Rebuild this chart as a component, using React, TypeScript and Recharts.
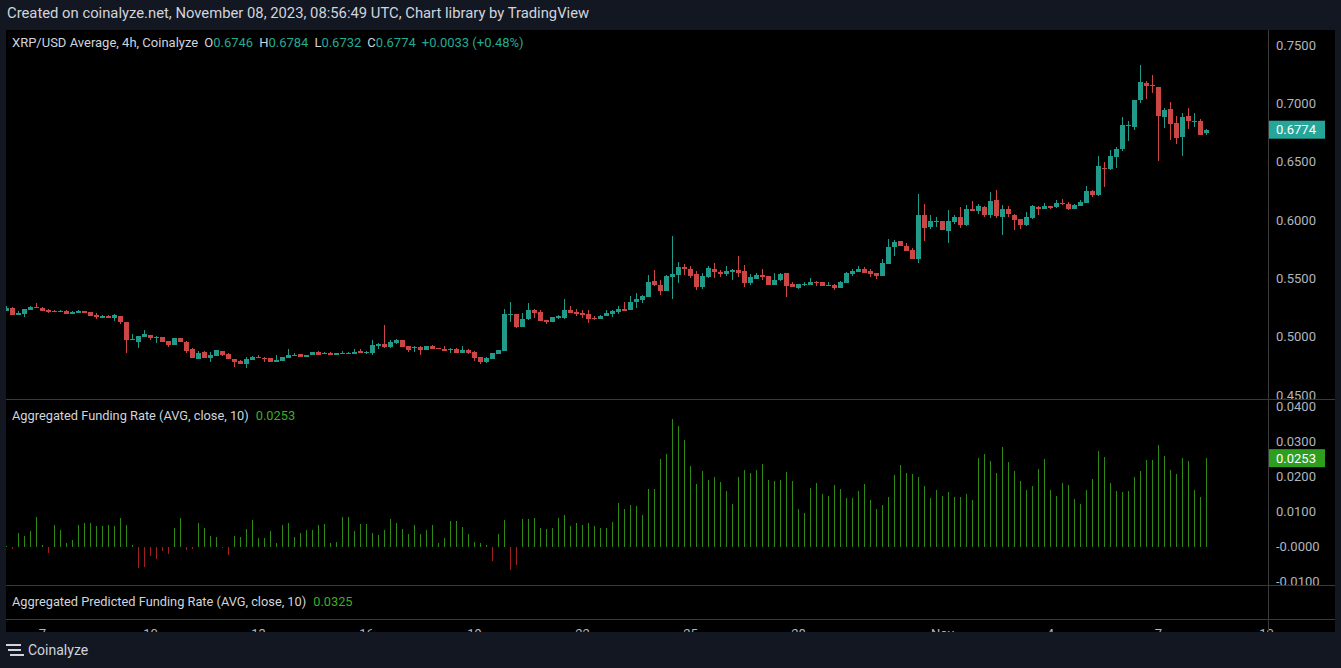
import React from 'react';
import { ComposedChart, Bar, XAxis, YAxis, ReferenceLine } from 'recharts';

// 4h candles, Oct 6 00:00 UTC -> Nov 8 08:00 UTC: [open, high, low, close]
const candles: [number, number, number, number][] = [
  [0.5220, 0.5263, 0.5218, 0.5249], [0.5246, 0.5250, 0.5183, 0.5186], [0.5186, 0.5220, 0.5184, 0.5206], [0.5194, 0.5240, 0.5169, 0.5237],
  [0.5229, 0.5263, 0.5226, 0.5254], [0.5254, 0.5286, 0.5246, 0.5250], [0.5246, 0.5252, 0.5218, 0.5220], [0.5231, 0.5237, 0.5206, 0.5211],
  [0.5222, 0.5226, 0.5214, 0.5218], [0.5218, 0.5226, 0.5214, 0.5221], [0.5223, 0.5226, 0.5192, 0.5194], [0.5194, 0.5217, 0.5191, 0.5214],
  [0.5203, 0.5229, 0.5200, 0.5223], [0.5220, 0.5223, 0.5200, 0.5203], [0.5211, 0.5214, 0.5177, 0.5180], [0.5189, 0.5203, 0.5154, 0.5171],
  [0.5163, 0.5186, 0.5160, 0.5180], [0.5180, 0.5183, 0.5160, 0.5163], [0.5160, 0.5194, 0.5137, 0.5189], [0.5177, 0.5180, 0.5111, 0.5126],
  [0.5126, 0.5129, 0.4863, 0.4971], [0.4977, 0.5023, 0.4971, 0.4980], [0.4954, 0.5009, 0.4903, 0.5006], [0.4997, 0.5057, 0.4994, 0.5023],
  [0.5014, 0.5017, 0.4971, 0.4989], [0.4994, 0.5006, 0.4946, 0.4997], [0.4997, 0.5000, 0.4951, 0.4954], [0.4963, 0.4966, 0.4911, 0.4929],
  [0.4929, 0.4991, 0.4926, 0.4989], [0.4989, 0.4991, 0.4951, 0.4954], [0.4954, 0.4960, 0.4860, 0.4877], [0.4894, 0.4900, 0.4814, 0.4817],
  [0.4809, 0.4877, 0.4806, 0.4860], [0.4869, 0.4877, 0.4814, 0.4817], [0.4817, 0.4869, 0.4783, 0.4843], [0.4834, 0.4889, 0.4831, 0.4886],
  [0.4877, 0.4880, 0.4834, 0.4843], [0.4851, 0.4857, 0.4806, 0.4809], [0.4809, 0.4811, 0.4740, 0.4783], [0.4791, 0.4797, 0.4763, 0.4766],
  [0.4766, 0.4826, 0.4731, 0.4809], [0.4800, 0.4834, 0.4797, 0.4826], [0.4827, 0.4843, 0.4817, 0.4824], [0.4820, 0.4826, 0.4783, 0.4816],
  [0.4817, 0.4820, 0.4780, 0.4783], [0.4783, 0.4843, 0.4780, 0.4800], [0.4791, 0.4829, 0.4789, 0.4826], [0.4817, 0.4894, 0.4814, 0.4843],
  [0.4838, 0.4860, 0.4834, 0.4841], [0.4851, 0.4854, 0.4823, 0.4826], [0.4826, 0.4846, 0.4823, 0.4843], [0.4843, 0.4871, 0.4840, 0.4869],
  [0.4869, 0.4877, 0.4840, 0.4843], [0.4859, 0.4869, 0.4851, 0.4862], [0.4860, 0.4866, 0.4840, 0.4843], [0.4843, 0.4863, 0.4840, 0.4860],
  [0.4858, 0.4877, 0.4855, 0.4861], [0.4859, 0.4869, 0.4856, 0.4862], [0.4851, 0.4894, 0.4849, 0.4869], [0.4877, 0.4894, 0.4857, 0.4860],
  [0.4867, 0.4877, 0.4851, 0.4870], [0.4860, 0.4971, 0.4843, 0.4929], [0.4920, 0.4946, 0.4894, 0.4937], [0.4937, 0.5100, 0.4906, 0.4911],
  [0.4911, 0.4971, 0.4903, 0.4954], [0.4946, 0.4980, 0.4937, 0.4971], [0.4971, 0.4974, 0.4909, 0.4911], [0.4920, 0.4923, 0.4869, 0.4886],
  [0.4909, 0.4920, 0.4869, 0.4912], [0.4911, 0.4920, 0.4843, 0.4886], [0.4886, 0.4923, 0.4883, 0.4920], [0.4920, 0.4929, 0.4891, 0.4894],
  [0.4904, 0.4906, 0.4894, 0.4901], [0.4894, 0.4920, 0.4874, 0.4877], [0.4893, 0.4903, 0.4860, 0.4896], [0.4894, 0.4903, 0.4857, 0.4860],
  [0.4860, 0.4920, 0.4857, 0.4886], [0.4886, 0.4894, 0.4851, 0.4860], [0.4869, 0.4877, 0.4791, 0.4817], [0.4826, 0.4829, 0.4766, 0.4783],
  [0.4783, 0.4826, 0.4774, 0.4817], [0.4809, 0.4863, 0.4806, 0.4860], [0.4851, 0.4889, 0.4849, 0.4886], [0.4877, 0.5237, 0.4874, 0.5194],
  [0.5194, 0.5297, 0.5126, 0.5197], [0.5194, 0.5197, 0.5074, 0.5083], [0.5083, 0.5203, 0.5080, 0.5151], [0.5151, 0.5289, 0.5143, 0.5229],
  [0.5229, 0.5237, 0.5160, 0.5203], [0.5211, 0.5229, 0.5131, 0.5134], [0.5143, 0.5146, 0.5109, 0.5126], [0.5126, 0.5171, 0.5123, 0.5169],
  [0.5160, 0.5186, 0.5151, 0.5177], [0.5160, 0.5323, 0.5151, 0.5229], [0.5229, 0.5263, 0.5200, 0.5203], [0.5211, 0.5237, 0.5177, 0.5194],
  [0.5203, 0.5229, 0.5160, 0.5186], [0.5194, 0.5229, 0.5117, 0.5151], [0.5162, 0.5177, 0.5143, 0.5159], [0.5151, 0.5186, 0.5149, 0.5177],
  [0.5177, 0.5229, 0.5174, 0.5203], [0.5194, 0.5229, 0.5169, 0.5220], [0.5211, 0.5263, 0.5194, 0.5237], [0.5234, 0.5297, 0.5217, 0.5222],
  [0.5229, 0.5349, 0.5226, 0.5297], [0.5297, 0.5374, 0.5246, 0.5323], [0.5314, 0.5357, 0.5289, 0.5349], [0.5340, 0.5529, 0.5337, 0.5469],
  [0.5477, 0.5571, 0.5434, 0.5443], [0.5443, 0.5486, 0.5357, 0.5391], [0.5391, 0.5529, 0.5389, 0.5520], [0.5511, 0.5863, 0.5323, 0.5537],
  [0.5529, 0.5640, 0.5460, 0.5597], [0.5597, 0.5623, 0.5529, 0.5580], [0.5580, 0.5606, 0.5503, 0.5520], [0.5537, 0.5563, 0.5400, 0.5426],
  [0.5426, 0.5546, 0.5409, 0.5520], [0.5511, 0.5606, 0.5503, 0.5589], [0.5580, 0.5631, 0.5503, 0.5554], [0.5554, 0.5571, 0.5511, 0.5537],
  [0.5537, 0.5606, 0.5520, 0.5563], [0.5554, 0.5580, 0.5486, 0.5571], [0.5571, 0.5691, 0.5511, 0.5546], [0.5563, 0.5614, 0.5426, 0.5460],
  [0.5460, 0.5537, 0.5443, 0.5511], [0.5494, 0.5546, 0.5491, 0.5529], [0.5529, 0.5580, 0.5486, 0.5511], [0.5520, 0.5523, 0.5440, 0.5443],
  [0.5443, 0.5546, 0.5440, 0.5486], [0.5486, 0.5546, 0.5477, 0.5537], [0.5546, 0.5549, 0.5340, 0.5434], [0.5451, 0.5469, 0.5423, 0.5426],
  [0.5417, 0.5454, 0.5409, 0.5451], [0.5447, 0.5469, 0.5434, 0.5450], [0.5443, 0.5503, 0.5440, 0.5469], [0.5468, 0.5477, 0.5434, 0.5465],
  [0.5469, 0.5472, 0.5431, 0.5434], [0.5438, 0.5469, 0.5434, 0.5441], [0.5443, 0.5451, 0.5400, 0.5417], [0.5417, 0.5477, 0.5414, 0.5469],
  [0.5460, 0.5554, 0.5457, 0.5546], [0.5537, 0.5580, 0.5520, 0.5563], [0.5554, 0.5606, 0.5551, 0.5580], [0.5580, 0.5597, 0.5543, 0.5546],
  [0.5563, 0.5580, 0.5511, 0.5537], [0.5546, 0.5549, 0.5494, 0.5520], [0.5520, 0.5666, 0.5517, 0.5631], [0.5623, 0.5837, 0.5620, 0.5769],
  [0.5769, 0.5829, 0.5691, 0.5811], [0.5820, 0.5823, 0.5774, 0.5777], [0.5777, 0.5803, 0.5731, 0.5734], [0.5743, 0.5760, 0.5663, 0.5666],
  [0.5666, 0.6223, 0.5631, 0.6043], [0.6043, 0.6137, 0.5820, 0.5931], [0.5940, 0.6043, 0.5923, 0.5991], [0.5992, 0.6026, 0.5940, 0.5995],
  [0.5991, 0.5994, 0.5911, 0.5914], [0.5906, 0.6086, 0.5803, 0.5991], [0.5983, 0.6043, 0.5966, 0.6026], [0.6026, 0.6111, 0.5931, 0.5957],
  [0.5957, 0.6129, 0.5949, 0.6094], [0.6094, 0.6163, 0.6074, 0.6077], [0.6077, 0.6137, 0.6051, 0.6120], [0.6111, 0.6120, 0.6026, 0.6043],
  [0.6043, 0.6240, 0.6017, 0.6163], [0.6171, 0.6257, 0.6017, 0.6034], [0.6026, 0.6129, 0.5871, 0.6094], [0.6094, 0.6120, 0.6026, 0.6051],
  [0.6043, 0.6051, 0.5914, 0.6000], [0.6009, 0.6012, 0.5923, 0.5957], [0.5957, 0.6069, 0.5949, 0.6026], [0.6017, 0.6129, 0.6009, 0.6120],
  [0.6111, 0.6120, 0.6043, 0.6094], [0.6094, 0.6146, 0.6091, 0.6120], [0.6120, 0.6123, 0.6094, 0.6103], [0.6111, 0.6171, 0.6103, 0.6146],
  [0.6142, 0.6180, 0.6129, 0.6139], [0.6137, 0.6154, 0.6086, 0.6094], [0.6094, 0.6137, 0.6091, 0.6129], [0.6120, 0.6171, 0.6117, 0.6154],
  [0.6146, 0.6291, 0.6143, 0.6249], [0.6249, 0.6257, 0.6197, 0.6214], [0.6214, 0.6549, 0.6206, 0.6463], [0.6448, 0.6497, 0.6283, 0.6444],
  [0.6437, 0.6600, 0.6429, 0.6549], [0.6540, 0.6626, 0.6446, 0.6609], [0.6609, 0.6883, 0.6591, 0.6814], [0.6815, 0.6849, 0.6677, 0.6818],
  [0.6797, 0.7032, 0.6771, 0.7029], [0.7029, 0.7329, 0.7003, 0.7183], [0.7174, 0.7191, 0.7037, 0.7149], [0.7156, 0.7243, 0.7089, 0.7152],
  [0.7140, 0.7143, 0.6506, 0.6891], [0.6883, 0.6960, 0.6789, 0.6943], [0.6951, 0.7011, 0.6686, 0.6823], [0.6831, 0.6891, 0.6651, 0.6703],
  [0.6711, 0.6917, 0.6549, 0.6883], [0.6891, 0.6960, 0.6780, 0.6849], [0.6845, 0.6917, 0.6797, 0.6848], [0.6849, 0.6866, 0.6726, 0.6729],
  [0.6746, 0.6784, 0.6732, 0.6774],
];

// aggregated funding rate, one value per candle
const funding: number[] = [
  0.0002, -0.0006, 0.0038, 0.0030, 0.0045, 0.0086, 0.0006, -0.0017, 0.0062, 0.0048,
  0.0010, 0.0019, 0.0062, 0.0068, 0.0068, 0.0060, 0.0060, 0.0062, 0.0060, 0.0082,
  0.0062, 0.0004, -0.0060, -0.0057, -0.0027, -0.0034, -0.0012, -0.0021, 0.0054, 0.0083,
  -0.0009, -0.0006, 0.0068, 0.0054, 0.0032, 0.0029, -0.0003, -0.0023, 0.0030, 0.0029,
  0.0051, 0.0077, 0.0026, 0.0026, 0.0045, 0.0010, 0.0062, 0.0068, 0.0029, 0.0039,
  0.0048, 0.0048, 0.0062, 0.0065, 0.0010, 0.0014, 0.0085, 0.0085, 0.0045, 0.0065,
  0.0065, 0.0039, 0.0033, 0.0048, 0.0079, 0.0069, 0.0050, 0.0036, 0.0062, 0.0036,
  0.0049, 0.0062, 0.0010, 0.0026, 0.0074, 0.0074, 0.0056, 0.0036, 0.0014, 0.0010,
  0.0006, -0.0040, 0.0036, 0.0077, -0.0066, -0.0052, 0.0079, 0.0079, 0.0083, 0.0054,
  0.0051, 0.0054, 0.0083, 0.0090, 0.0059, 0.0068, 0.0062, 0.0068, 0.0059, 0.0054,
  0.0054, 0.0070, 0.0124, 0.0109, 0.0119, 0.0117, 0.0091, 0.0166, 0.0166, 0.0251,
  0.0266, 0.0366, 0.0346, 0.0306, 0.0231, 0.0180, 0.0217, 0.0191, 0.0200, 0.0186,
  0.0160, 0.0123, 0.0200, 0.0220, 0.0211, 0.0220, 0.0237, 0.0191, 0.0189, 0.0191,
  0.0214, 0.0189, 0.0109, 0.0097, 0.0169, 0.0183, 0.0151, 0.0146, 0.0177, 0.0166,
  0.0140, 0.0140, 0.0160, 0.0180, 0.0134, 0.0109, 0.0120, 0.0143, 0.0206, 0.0234,
  0.0211, 0.0209, 0.0200, 0.0174, 0.0140, 0.0163, 0.0146, 0.0157, 0.0143, 0.0143,
  0.0151, 0.0134, 0.0254, 0.0266, 0.0246, 0.0211, 0.0286, 0.0243, 0.0217, 0.0189,
  0.0163, 0.0174, 0.0223, 0.0251, 0.0163, 0.0146, 0.0183, 0.0177, 0.0137, 0.0123,
  0.0163, 0.0194, 0.0274, 0.0257, 0.0183, 0.0160, 0.0157, 0.0160, 0.0200, 0.0217,
  0.0249, 0.0249, 0.0291, 0.0260, 0.0220, 0.0209, 0.0254, 0.0246, 0.0163, 0.0143,
  0.0253,
];

// candle index of each day label (index 0 = Oct 6 00:00)
const timeTicks = [6, 24, 42, 60, 78, 96, 114, 132, 156, 174, 192, 210];
const timeLabels = ['7', '10', '13', '16', '19', '22', '25', '28', 'Nov', '4', '7', '10'];
const priceTicks = [0.45, 0.5, 0.55, 0.6, 0.65, 0.7, 0.75];
const fundingTicks = [-0.01, 0, 0.01, 0.02, 0.03, 0.04];
const predictedFunding = 0.0325;

const UP = '#229a89';
const DOWN = '#cc4646';
const FUND_UP = '#2f8a14';
const FUND_DOWN = '#9c2020';
const AXIS_TEXT = '#b2b5be';
const LINE = '#3a3a3a';
const FONT = "Roboto, 'Liberation Sans', sans-serif";

const rows = candles.map(([o, h, l, c], i) => ({ i, o, h, l, c, range: [l, h], funding: funding[i] }));
const last = rows[rows.length - 1];

const Candle = (props: any) => {
  const { x, y, width, height, payload } = props;
  const top = Math.min(y, y + height);
  const bottom = Math.max(y, y + height);
  const span = payload.h - payload.l;
  const toY = (v: number) => (span === 0 ? top : top + ((payload.h - v) / span) * (bottom - top));
  const color = payload.c >= payload.o ? UP : DOWN;
  const cx = Math.floor(x + width / 2);
  const bTop = Math.round(toY(Math.max(payload.o, payload.c)));
  const bBot = Math.round(toY(Math.min(payload.o, payload.c)));
  return (
    <g shapeRendering="crispEdges">
      <rect x={cx} y={Math.round(top)} width={1} height={Math.max(1, Math.round(bottom) - Math.round(top))} fill={color} />
      <rect x={cx - 2} y={bTop} width={5} height={Math.max(1, bBot - bTop)} fill={color} />
    </g>
  );
};

const FundingBar = (props: any) => {
  const { x, y, width, height, payload } = props;
  const top = Math.round(Math.min(y, y + height));
  const bottom = Math.round(Math.max(y, y + height));
  return (
    <rect
      x={Math.floor(x + width / 2)}
      y={top}
      width={1}
      height={Math.max(1, bottom - top)}
      fill={payload.funding >= 0 ? FUND_UP : FUND_DOWN}
      shapeRendering="crispEdges"
    />
  );
};

const Tag = (color: string, text: string) => (p: any) => {
  const vb = p.viewBox;
  const x = vb.x + vb.width + 1;
  return (
    <g>
      <rect x={x} y={vb.y - 9} width={56} height={18} fill={color} />
      <text x={x + 7} y={vb.y} dy="0.36em" fill="#ffffff" fontSize={13} fontFamily={FONT}>
        {text}
      </text>
    </g>
  );
};

const fundingFormat = (v: number) => (v <= 0 ? '-' + Math.abs(v).toFixed(4) : v.toFixed(4));

const xDomain: [number, number] = [-1 / 12, 210.25];
const W = 1329;

export default function App() {
  const label = { color: '#d1d4dc' };
  const teal = { color: '#22ab94', marginRight: 6 };
  return (
    <div
      style={{
        position: 'absolute', left: 0, top: 0, width: 1341, height: 668,
        background: '#131722', overflow: 'hidden', fontFamily: FONT,
      }}
    >
      <div style={{ position: 'absolute', left: 7, top: 4, fontSize: 14.8, lineHeight: '18px', color: '#d1d4dc', whiteSpace: 'nowrap' }}>
        Created on coinalyze.net, November 08, 2023, 08:56:49 UTC, Chart library by TradingView
      </div>

      <div style={{ position: 'absolute', left: 6, top: 30, width: W, height: 602, background: '#000', overflow: 'hidden' }}>
        <div style={{ position: 'absolute', left: 0, top: 0 }}>
          <ComposedChart width={W} height={369} data={rows} margin={{ top: 0, right: 0, bottom: 0, left: 0 }}>
            <XAxis type="number" dataKey="i" domain={xDomain} allowDataOverflow hide />
            <YAxis
              orientation="right"
              width={67}
              domain={[0.44657, 0.76286]}
              allowDataOverflow
              ticks={priceTicks}
              interval={0}
              tickFormatter={(v: number) => v.toFixed(4)}
              axisLine={false}
              tickLine={false}
              tick={{ fill: AXIS_TEXT, fontSize: 13 }}
            />
            <Bar dataKey="range" barSize={5} shape={Candle} isAnimationActive={false} />
            <ReferenceLine y={last.c} strokeOpacity={0} label={Tag('#26a69a', last.c.toFixed(4))} />
          </ComposedChart>
        </div>

        <div style={{ position: 'absolute', left: 0, top: 369 }}>
          <ComposedChart width={W} height={233} data={rows} margin={{ top: 0, right: 0, bottom: 0, left: 0 }}>
            <XAxis
              type="number"
              dataKey="i"
              domain={xDomain}
              allowDataOverflow
              ticks={timeTicks}
              interval={0}
              height={47}
              tickSize={0}
              tickMargin={44}
              axisLine={false}
              tickLine={false}
              tickFormatter={(v: number) => timeLabels[timeTicks.indexOf(v)] ?? ''}
              tick={{ fill: AXIS_TEXT, fontSize: 13 }}
            />
            <YAxis
              orientation="right"
              width={67}
              domain={[-0.01094, 0.0422]}
              allowDataOverflow
              ticks={fundingTicks}
              interval={0}
              tickFormatter={fundingFormat}
              axisLine={false}
              tickLine={false}
              tick={{ fill: AXIS_TEXT, fontSize: 13 }}
            />
            <Bar dataKey="funding" barSize={1} shape={FundingBar} isAnimationActive={false} />
            <ReferenceLine y={last.funding} strokeOpacity={0} label={Tag('#2e9e1f', last.funding.toFixed(4))} />
          </ComposedChart>
        </div>

        {/* pane separators and price-scale border */}
        <div style={{ position: 'absolute', left: 0, top: 369, width: W, height: 1, background: LINE }} />
        <div style={{ position: 'absolute', left: 0, top: 555, width: W, height: 1, background: LINE }} />
        <div style={{ position: 'absolute', left: 0, top: 589, width: W, height: 1, background: LINE }} />
        <div style={{ position: 'absolute', left: 1262, top: 0, width: 1, height: 602, background: LINE }} />
      </div>

      <div style={{ position: 'absolute', left: 12, top: 34, fontSize: 13, lineHeight: '18px', whiteSpace: 'nowrap' }}>
        <span style={{ ...label, marginRight: 6 }}>XRP/USD Average, 4h, Coinalyze</span>
        <span style={label}>O</span><span style={teal}>{last.o.toFixed(4)}</span>
        <span style={label}>H</span><span style={teal}>{last.h.toFixed(4)}</span>
        <span style={label}>L</span><span style={teal}>{last.l.toFixed(4)}</span>
        <span style={label}>C</span><span style={teal}>{last.c.toFixed(4)}</span>
        <span style={teal}>+0.0033 (+0.48%)</span>
      </div>

      <div style={{ position: 'absolute', left: 12, top: 407, fontSize: 12.8, lineHeight: '18px', whiteSpace: 'nowrap' }}>
        <span style={{ ...label, marginRight: 7 }}>Aggregated Funding Rate (AVG, close, 10)</span>
        <span style={{ color: '#3cae22' }}>{last.funding.toFixed(4)}</span>
      </div>

      <div style={{ position: 'absolute', left: 12, top: 593, fontSize: 12.8, lineHeight: '18px', whiteSpace: 'nowrap' }}>
        <span style={{ ...label, marginRight: 7 }}>Aggregated Predicted Funding Rate (AVG, close, 10)</span>
        <span style={{ color: '#3cae22' }}>{predictedFunding.toFixed(4)}</span>
      </div>

      <div style={{ position: 'absolute', left: 0, top: 632, width: 1341, height: 36, background: '#131722' }}>
        <div style={{ position: 'absolute', left: 6, top: 12, width: 15, height: 1.5, background: '#d1d4dc' }} />
        <div style={{ position: 'absolute', left: 8, top: 17, width: 13, height: 1.5, background: '#d1d4dc' }} />
        <div style={{ position: 'absolute', left: 10, top: 22, width: 14, height: 1.5, background: '#d1d4dc' }} />
        <div style={{ position: 'absolute', left: 28, top: 9, fontSize: 14, lineHeight: '18px', color: '#d1d4dc' }}>Coinalyze</div>
      </div>
    </div>
  );
}
